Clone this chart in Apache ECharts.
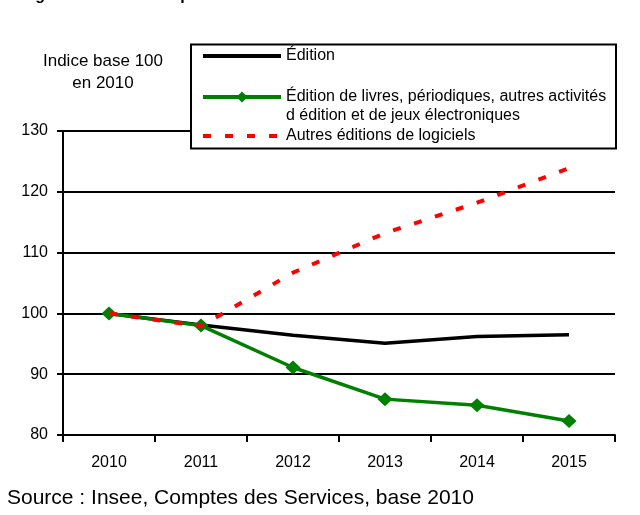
<!DOCTYPE html>
<html>
<head>
<meta charset="utf-8">
<script src="https://cdn.jsdelivr.net/npm/echarts@6/dist/echarts.min.js"></script>
<style>
  html, body { margin: 0; padding: 0; background: #fff; }
  #chart { width: 640px; height: 515px; }
</style>
</head>
<body>
<div id="chart"></div>
<script>
// Years on the horizontal axis
const years = ['2010', '2011', '2012', '2013', '2014', '2015'];

// Index values, base 100 in 2010
const edition = [100, 98.1, 96.4, 95.1, 96.2, 96.5];
const livres = [100, 98.0, 91.1, 85.9, 84.9, 82.3];
const logiciels = [100, 97.9, 106.7, 113.2, 118.2, 123.9];

// Series labels
const nameEdition = 'Édition';
const livresLines = ['Édition de livres, périodiques, autres activités', 'd édition et de jeux électroniques'];
const nameLivres = livresLines.join(' ');
const nameLogiciels = 'Autres éditions de logiciels';

// Vertical scale
const yMin = 80, yMax = 130, yStep = 10;

const FONT = 'Liberation Sans, Arial, sans-serif';

const chart = echarts.init(document.getElementById('chart'), null, { renderer: 'canvas' });

const legendText = { fontFamily: FONT, fontSize: 16, color: '#000' };
const legendBase = {
  orient: 'vertical',
  left: 201,
  padding: 0,
  itemWidth: 78,
  itemHeight: 14,
  itemGap: 0,
  selectedMode: false,
  z: 10,
  textStyle: legendText
};

chart.setOption({
  animation: false,
  backgroundColor: '#fff',
  grid: { left: 63, right: 25, top: 131, bottom: 80, containLabel: false },
  xAxis: {
    type: 'category',
    data: years,
    boundaryGap: true,
    axisLine: { show: true, lineStyle: { color: '#000', width: 2 } },
    axisTick: { show: true, length: 7, lineStyle: { color: '#000', width: 2 } },
    axisLabel: { color: '#000', fontFamily: FONT, fontSize: 16, margin: 20 },
    splitLine: { show: false }
  },
  yAxis: {
    type: 'value',
    min: yMin,
    max: yMax,
    interval: yStep,
    axisLine: { show: true, lineStyle: { color: '#000', width: 2 } },
    axisTick: { show: true, length: 6, lineStyle: { color: '#000', width: 2 } },
    axisLabel: { color: '#000', fontFamily: FONT, fontSize: 16, margin: 15 },
    splitLine: { show: true, lineStyle: { color: '#000', width: 2 } }
  },
  legend: [
    Object.assign({}, legendBase, {
      data: [nameEdition],
      top: 48,
      itemStyle: { opacity: 0 },
      lineStyle: { width: 4 }
    }),
    Object.assign({}, legendBase, {
      data: [nameLivres],
      top: 68.5,
      lineStyle: { width: 4 },
      // an empty first line keeps the icon level with the first text line
      formatter: () => ['', livresLines[0], livresLines[1]].join('\n'),
      textStyle: Object.assign({}, legendText, { lineHeight: 19 })
    }),
    Object.assign({}, legendBase, {
      data: [nameLogiciels],
      top: 128,
      itemStyle: { opacity: 0 },
      lineStyle: { width: 4 }
    })
  ],
  graphic: [
    {
      type: 'rect',
      z: 5,
      shape: { x: 191, y: 44.5, width: 425, height: 104 },
      style: { fill: '#fff', stroke: '#000', lineWidth: 2 }
    },
    {
      type: 'text',
      x: 103,
      y: 72,
      style: {
        text: 'Indice base 100\nen 2010',
        font: '17px ' + FONT,
        fill: '#000',
        align: 'center',
        verticalAlign: 'middle',
        lineHeight: 22
      }
    },
    {
      type: 'text',
      x: 7,
      y: 498,
      style: {
        text: 'Source : Insee, Comptes des Services, base 2010',
        font: '21px ' + FONT,
        fill: '#000',
        align: 'left',
        verticalAlign: 'middle'
      }
    },
    {
      type: 'text',
      x: 21,
      y: -4,
      style: {
        text: 'Figure 2 : Indices de production de l\u2019édition',
        font: 'bold 16px ' + FONT,
        fill: '#000',
        align: 'left',
        verticalAlign: 'middle'
      }
    }
  ],
  series: [
    {
      name: nameEdition,
      type: 'line',
      data: edition,
      symbol: 'none',
      lineStyle: { color: '#000', width: 3.5 },
      itemStyle: { color: '#000' },
      z: 2
    },
    {
      name: nameLivres,
      type: 'line',
      data: livres,
      symbol: 'diamond',
      symbolSize: [15, 14],
      lineStyle: { color: '#008000', width: 3.5 },
      itemStyle: { color: '#008000' },
      z: 3
    },
    {
      name: nameLogiciels,
      type: 'line',
      data: logiciels,
      symbol: 'none',
      lineStyle: { color: '#ff0000', width: 4, type: [8, 14] },
      itemStyle: { color: '#ff0000' },
      z: 4
    }
  ]
});
</script>
</body>
</html>
